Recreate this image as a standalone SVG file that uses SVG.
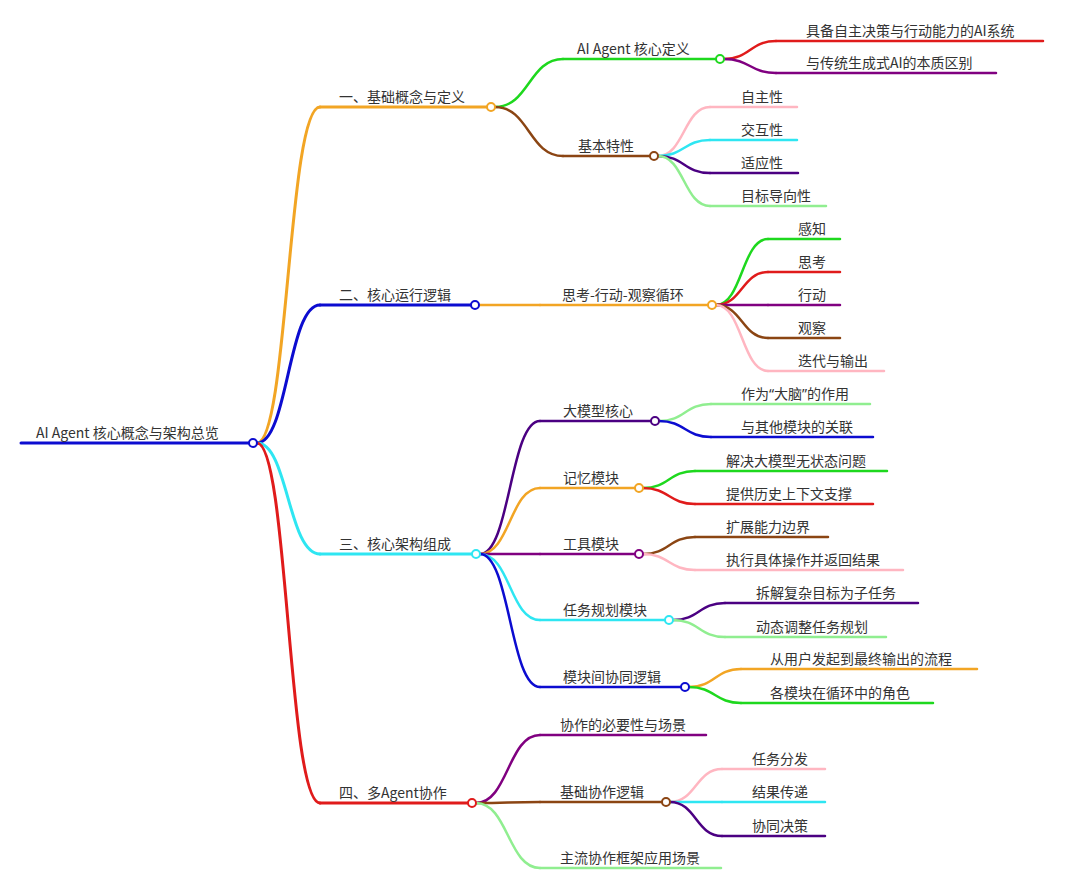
<svg xmlns="http://www.w3.org/2000/svg" width="1080" height="889" viewBox="0 0 1080 889">
<style>
text{font-family:"Noto Sans CJK SC","Noto Sans",sans-serif;font-size:14px;fill:#333}
.q{font-family:"Noto Sans",sans-serif}
path,line{fill:none;stroke-linecap:round}
.l{stroke-width:2.5}
.t{stroke-width:3}
circle{fill:#fff;stroke-width:2}
.or{stroke:#f2a524}.bl{stroke:#0c0cd0}.cy{stroke:#2ee6f2}.rd{stroke:#e01b1b}
.gr{stroke:#1ed81e}.br{stroke:#8b4513}.pu{stroke:#800080}.in{stroke:#4b0082}
.pk{stroke:#ffb6c1}.lg{stroke:#90ee90}
</style>
<rect width="1080" height="889" fill="#fff"/>
<g id="connectors">
<path class="t or" d="M257 443 C288 443 288 107 320 107"/>
<path class="t bl" d="M257 443 C288 443 288 305 320 305"/>
<path class="t cy" d="M257 443 C288 443 288 554 320 554"/>
<path class="t rd" d="M257 443 C288 443 288 803 320 803"/>
<path class="l gr" d="M495 107 C529 107 529 59 563 59"/>
<path class="l br" d="M495 107 C529 107 529 156 563 156"/>
<path class="l or" d="M479 305 H540"/>
<path class="l in" d="M480 554 C510 554 510 421 540 421"/>
<path class="l or" d="M480 554 C510 554 510 488 540 488"/>
<path class="l pu" d="M480 554 H540"/>
<path class="l cy" d="M480 554 C510 554 510 620 540 620"/>
<path class="l bl" d="M480 554 C510 554 510 687 540 687"/>
<path class="l pu" d="M476 803 C508 803 508 735 540 735"/>
<path class="l br" d="M476 803 C508 803 508 802 540 802"/>
<path class="l lg" d="M476 803 C508 803 508 868 540 868"/>
<path class="l rd" d="M724 59 C750 59 750 41 776 41"/>
<path class="l pu" d="M724 59 C750 59 750 73 776 73"/>
<path class="l pk" d="M658 156 C684 156 684 107 710 107"/>
<path class="l cy" d="M658 156 C684 156 684 140 710 140"/>
<path class="l in" d="M658 156 C684 156 684 173 710 173"/>
<path class="l lg" d="M658 156 C684 156 684 206 710 206"/>
<path class="l gr" d="M716 305 C742 305 742 239 768 239"/>
<path class="l rd" d="M716 305 C742 305 742 272 768 272"/>
<path class="l pu" d="M716 305 H768"/>
<path class="l br" d="M716 305 C742 305 742 338 768 338"/>
<path class="l pk" d="M716 305 C742 305 742 371 768 371"/>
<path class="l lg" d="M659 421 C685 421 685 404 711 404"/>
<path class="l bl" d="M659 421 C685 421 685 437 711 437"/>
<path class="l gr" d="M643 488 C669 488 669 471 695 471"/>
<path class="l rd" d="M643 488 C669 488 669 504 695 504"/>
<path class="l br" d="M643 554 C669 554 669 537 695 537"/>
<path class="l pk" d="M643 554 C669 554 669 570 695 570"/>
<path class="l in" d="M673 620 C699 620 699 603 725 603"/>
<path class="l lg" d="M673 620 C699 620 699 637 725 637"/>
<path class="l or" d="M689 687 C715 687 715 669 741 669"/>
<path class="l gr" d="M689 687 C715 687 715 703 741 703"/>
<path class="l pk" d="M670 802 C696 802 696 769 722 769"/>
<path class="l cy" d="M670 802 H722"/>
<path class="l in" d="M670 802 C696 802 696 836 722 836"/>
</g>
<g id="root">
<path class="t bl" d="M21 443 H249"/>
<circle class="bl" cx="253" cy="443" r="4"/>
<text x="36" y="438">AI Agent 核心概念与架构总览</text>
</g>
<g id="n1">
<path class="t or" d="M320 107 H487"/>
<circle class="or" cx="491" cy="107" r="4"/>
<text x="339" y="102">一、基础概念与定义</text>
</g>
<g id="n1-1">
<path class="l gr" d="M563 59 H716"/>
<circle class="gr" cx="720" cy="59" r="4"/>
<text x="577" y="54">AI Agent 核心定义</text>
</g>
<g id="n1-1-1"><path class="l rd" d="M776 41 H1043"/><text x="806" y="36">具备自主决策与行动能力的AI系统</text></g>
<g id="n1-1-2"><path class="l pu" d="M776 73 H996"/><text x="806" y="68">与传统生成式AI的本质区别</text></g>
<g id="n1-2">
<path class="l br" d="M563 156 H650"/>
<circle class="br" cx="654" cy="156" r="4"/>
<text x="578" y="151">基本特性</text>
</g>
<g id="n1-2-1"><path class="l pk" d="M710 107 H797"/><text x="741" y="102">自主性</text></g>
<g id="n1-2-2"><path class="l cy" d="M710 140 H797"/><text x="741" y="135">交互性</text></g>
<g id="n1-2-3"><path class="l in" d="M710 173 H798"/><text x="741" y="168">适应性</text></g>
<g id="n1-2-4"><path class="l lg" d="M710 206 H826"/><text x="741" y="201">目标导向性</text></g>
<g id="n2">
<path class="t bl" d="M320 305 H471"/>
<circle class="bl" cx="475" cy="305" r="4"/>
<text x="339" y="300">二、核心运行逻辑</text>
</g>
<g id="n2-1">
<path class="l or" d="M540 305 H708"/>
<circle class="or" cx="712" cy="305" r="4"/>
<text x="562" y="300">思考-行动-观察循环</text>
</g>
<g id="n2-1-1"><path class="l gr" d="M768 239 H840"/><text x="798" y="234">感知</text></g>
<g id="n2-1-2"><path class="l rd" d="M768 272 H840"/><text x="798" y="267">思考</text></g>
<g id="n2-1-3"><path class="l pu" d="M768 305 H840"/><text x="798" y="300">行动</text></g>
<g id="n2-1-4"><path class="l br" d="M768 338 H840"/><text x="798" y="333">观察</text></g>
<g id="n2-1-5"><path class="l pk" d="M768 371 H884"/><text x="798" y="366">迭代与输出</text></g>
<g id="n3">
<path class="t cy" d="M320 554 H472"/>
<circle class="cy" cx="476" cy="554" r="4"/>
<text x="339" y="549">三、核心架构组成</text>
</g>
<g id="n3-1">
<path class="l in" d="M540 421 H651"/>
<circle class="in" cx="655" cy="421" r="4"/>
<text x="563" y="416">大模型核心</text>
</g>
<g id="n3-1-1"><path class="l lg" d="M711 404 H870"/><text x="741" y="399">作为<tspan class="q">“</tspan>大脑<tspan class="q">”</tspan>的作用</text></g>
<g id="n3-1-2"><path class="l bl" d="M711 437 H873"/><text x="741" y="432">与其他模块的关联</text></g>
<g id="n3-2">
<path class="l or" d="M540 488 H635"/>
<circle class="or" cx="639" cy="488" r="4"/>
<text x="563" y="483">记忆模块</text>
</g>
<g id="n3-2-1"><path class="l gr" d="M695 471 H887"/><text x="726" y="466">解决大模型无状态问题</text></g>
<g id="n3-2-2"><path class="l rd" d="M695 504 H873"/><text x="726" y="499">提供历史上下文支撑</text></g>
<g id="n3-3">
<path class="l pu" d="M540 554 H635"/>
<circle class="pu" cx="639" cy="554" r="4"/>
<text x="563" y="549">工具模块</text>
</g>
<g id="n3-3-1"><path class="l br" d="M695 537 H828"/><text x="726" y="532">扩展能力边界</text></g>
<g id="n3-3-2"><path class="l pk" d="M695 570 H903"/><text x="726" y="565">执行具体操作并返回结果</text></g>
<g id="n3-4">
<path class="l cy" d="M540 620 H665"/>
<circle class="cy" cx="669" cy="620" r="4"/>
<text x="563" y="615">任务规划模块</text>
</g>
<g id="n3-4-1"><path class="l in" d="M725 603 H918"/><text x="756" y="598">拆解复杂目标为子任务</text></g>
<g id="n3-4-2"><path class="l lg" d="M725 637 H886"/><text x="756" y="632">动态调整任务规划</text></g>
<g id="n3-5">
<path class="l bl" d="M540 687 H681"/>
<circle class="bl" cx="685" cy="687" r="4"/>
<text x="563" y="682">模块间协同逻辑</text>
</g>
<g id="n3-5-1"><path class="l or" d="M741 669 H977"/><text x="770" y="664">从用户发起到最终输出的流程</text></g>
<g id="n3-5-2"><path class="l gr" d="M741 703 H933"/><text x="770" y="698">各模块在循环中的角色</text></g>
<g id="n4">
<path class="t rd" d="M320 803 H468"/>
<circle class="rd" cx="472" cy="803" r="4"/>
<text x="339" y="798">四、多Agent协作</text>
</g>
<g id="n4-1"><path class="l pu" d="M540 735 H706"/><text x="560" y="730">协作的必要性与场景</text></g>
<g id="n4-2">
<path class="l br" d="M540 802 H662"/>
<circle class="br" cx="666" cy="802" r="4"/>
<text x="560" y="797">基础协作逻辑</text>
</g>
<g id="n4-2-1"><path class="l pk" d="M722 769 H825"/><text x="752" y="764">任务分发</text></g>
<g id="n4-2-2"><path class="l cy" d="M722 802 H825"/><text x="752" y="797">结果传递</text></g>
<g id="n4-2-3"><path class="l in" d="M722 836 H825"/><text x="752" y="831">协同决策</text></g>
<g id="n4-3"><path class="l lg" d="M540 868 H721"/><text x="560" y="863">主流协作框架应用场景</text></g>
</svg>
